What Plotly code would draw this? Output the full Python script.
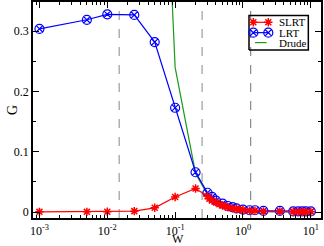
import plotly.graph_objects as go

# ---- data ----
w_lrt = [0.001, 0.005, 0.01, 0.025, 0.05, 0.1, 0.2, 0.3, 0.35, 0.4, 0.5, 0.6, 0.7, 0.8,
         1.0, 1.25, 1.5, 2.0, 3.5, 5.5, 6.5, 7.5, 8.5, 10.0]
g_lrt = [0.304, 0.319, 0.328, 0.327, 0.282, 0.173, 0.066, 0.032, 0.025, 0.019, 0.014, 0.010,
         0.008, 0.006, 0.004, 0.003, 0.003, 0.002, 0.002, 0.001, 0.001, 0.001, 0.001, 0.001]

w_slrt = [0.001, 0.005, 0.01, 0.025, 0.05, 0.1, 0.2, 0.3, 0.32, 0.35, 0.4, 0.45, 0.5, 0.55,
          0.6, 0.7, 0.8, 0.9, 1.0, 1.25, 1.5, 2.0, 3.5, 5.5, 6.5, 7.5, 8.5, 10.0]
g_slrt = [0.0003, 0.0003, 0.0005, 0.0015, 0.007, 0.025, 0.039, 0.026, 0.022, 0.019, 0.016,
          0.013, 0.011, 0.009, 0.008, 0.006, 0.005, 0.004, 0.003, 0.002, 0.002, 0.001,
          0.0008, 0.0005, 0.0005, 0.0005, 0.0005, 0.0005]

w_drude = [0.05, 0.1, 0.2, 0.3, 0.35, 0.4, 0.5, 0.6, 0.7, 0.8, 1.0, 1.25, 1.5, 2.0, 3.5,
           5.5, 10.0]
g_drude = [1.0, 0.24, 0.064, 0.029, 0.021, 0.016, 0.010, 0.007, 0.005, 0.004, 0.0025,
           0.0016, 0.0011, 0.0006, 0.0002, 0.0001, 0.00003]

vlines_light = [0.015, 0.25]
vlines_dark = [1.3]

x_major = [0.001, 0.01, 0.1, 1, 10]
x_labels = ["10<sup>-3</sup>", "10<sup>-2</sup>", "10<sup>-1</sup>", "10<sup>0</sup>", "10<sup>1</sup>"]
y_major = [0, 0.1, 0.2, 0.3]
y_labels = ["0", "0.1", "0.2", "0.3"]
y_minor = [0.05, 0.15, 0.25]
x_minor = [m * 10 ** e for e in range(-4, 2) for m in range(2, 10)]

legend_names = ["SLRT", "LRT", "Drude"]
x_title, y_title = "W", "G"

Y_RANGE = [-0.0099, 0.3485]
FONT = "Liberation Serif, Times New Roman, serif"
RED, BLUE, GREEN = "#ff0000", "#0000ff", "#1a9a1a"

star = dict(symbol="asterisk-open", size=7, color=RED, line=dict(width=1.5, color=RED))
circ = dict(symbol="circle-x-open", size=9, color=BLUE, line=dict(width=1.2, color=BLUE))

fig = go.Figure()

for xv in vlines_light:
    fig.add_trace(go.Scatter(x=[xv, xv], y=Y_RANGE, mode="lines", showlegend=False,
                             line=dict(color="#b0b0b0", width=1.5, dash="dash"), hoverinfo="skip"))
for xv in vlines_dark:
    fig.add_trace(go.Scatter(x=[xv, xv], y=Y_RANGE, mode="lines", showlegend=False,
                             line=dict(color="#707070", width=1, dash="dash"), hoverinfo="skip"))

fig.add_trace(go.Scatter(x=w_drude, y=g_drude, mode="lines", name="Drude", showlegend=False,
                         line=dict(color=GREEN, width=1.2)))
fig.add_trace(go.Scatter(x=w_lrt, y=g_lrt, mode="lines+markers", name="LRT", showlegend=False,
                         line=dict(color=BLUE, width=1.2), marker=circ))
fig.add_trace(go.Scatter(x=w_slrt, y=g_slrt, mode="lines+markers", name="SLRT", showlegend=False,
                         line=dict(color=RED, width=1.2), marker=star))

# ---- hand-built legend on an overlay axis pair spanning 0..1 ----
LX0, LX1, LY0, LY1 = 0.750, 0.956, 0.778, 0.937
row_y = [0.906, 0.858, 0.812]
sx0, sx1, tx = 0.765, 0.817, 0.846
fig.add_trace(go.Scatter(x=[LX0, LX1, LX1, LX0, LX0], y=[LY0, LY0, LY1, LY1, LY0],
                         xaxis="x2", yaxis="y2", mode="lines",
                         showlegend=False, hoverinfo="skip", line=dict(color="black", width=1.5)))
fig.add_trace(go.Scatter(x=[sx0, sx1], y=[row_y[0]] * 2, xaxis="x2", yaxis="y2", mode="lines+markers",
                         showlegend=False, hoverinfo="skip", line=dict(color=RED, width=1.2), marker=star))
fig.add_trace(go.Scatter(x=[sx0, sx1], y=[row_y[1]] * 2, xaxis="x2", yaxis="y2", mode="lines+markers",
                         showlegend=False, hoverinfo="skip", line=dict(color=BLUE, width=1.2), marker=circ))
fig.add_trace(go.Scatter(x=[sx0 + 0.006, sx1 - 0.006], y=[row_y[2]] * 2, xaxis="x2", yaxis="y2",
                         mode="lines", showlegend=False, hoverinfo="skip",
                         line=dict(color=GREEN, width=1.2)))
for name, yy in zip(legend_names, row_y):
    fig.add_annotation(x=tx, y=yy, xref="x2", yref="y2", text=name, showarrow=False,
                       xanchor="left", yanchor="middle", font=dict(family=FONT, size=11, color="black"))

# axis titles
fig.add_annotation(x=0.502, y=-0.097, xref="paper", yref="paper", text=x_title, showarrow=False,
                   xanchor="center", yanchor="middle", font=dict(family=FONT, size=12, color="black"))
fig.add_annotation(x=-0.073, y=0.5, xref="paper", yref="paper", text=y_title, showarrow=False,
                   textangle=-90, xanchor="center", yanchor="middle",
                   font=dict(family=FONT, size=14, color="black"))

fig.update_layout(
    width=324, height=246,
    margin=dict(l=33, r=3, t=2, b=28),
    paper_bgcolor="white", plot_bgcolor="white",
    font=dict(family=FONT, size=12, color="black"),
    showlegend=False,
    xaxis=dict(type="log", range=[-3.095, 1.15], showgrid=False, zeroline=False, automargin=False,
               showline=True, linecolor="black", linewidth=1.5, mirror="ticks",
               ticks="inside", ticklen=6, tickwidth=1.2, tickcolor="black",
               tickmode="array", tickvals=x_major, ticktext=x_labels, ticklabelstandoff=1,
               minor=dict(tickmode="array", tickvals=x_minor, ticks="inside",
                          ticklen=3, tickwidth=1, tickcolor="black", showgrid=False)),
    yaxis=dict(range=Y_RANGE, showgrid=False, zeroline=False, automargin=False,
               showline=True, linecolor="black", linewidth=1.5, mirror="ticks",
               ticks="inside", ticklen=6, tickwidth=1.2, tickcolor="black",
               tickmode="array", tickvals=y_major, ticktext=y_labels,
               minor=dict(tickmode="array", tickvals=y_minor, ticks="inside",
                          ticklen=3, tickwidth=1, tickcolor="black", showgrid=False)),
    xaxis2=dict(overlaying="x", range=[0, 1], visible=False),
    yaxis2=dict(overlaying="y", range=[0, 1], visible=False),
)

fig.write_html("out.html", config={"displayModeBar": False},
               post_script="document.body.style.margin='0px';")
